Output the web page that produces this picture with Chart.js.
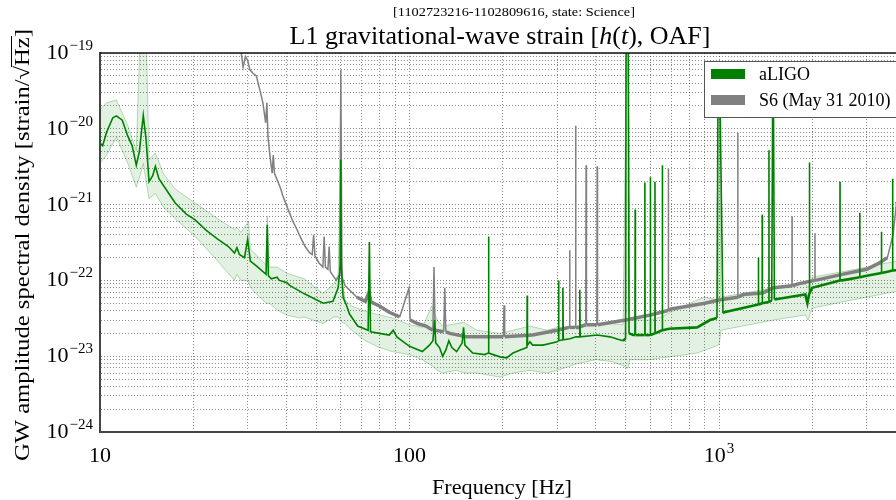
<!DOCTYPE html>
<html>
<head>
<meta charset="utf-8">
<script src="https://cdn.jsdelivr.net/npm/chart.js@4.4.0/dist/chart.umd.min.js"></script>
<style>
html, body { margin: 0; padding: 0; overflow: hidden; background: #fff; }
canvas { display: block; }
</style>
</head>
<body>
<canvas id="asdChart" width="912" height="500"></canvas>
<script>
// aLIGO median ASD (Hz, strain/rtHz)
var aligoFreq = [
  10, 10.2, 10.5, 11, 11.3, 11.8, 12.3, 12.7, 13.1, 13.4,
  13.8, 14.1, 14.4, 14.8, 15.1, 15.5, 16.5, 17.5, 19, 20.3,
  22, 24, 26, 27.2, 27.7, 28.2, 29.3, 30, 30.6, 32,
  34.4, 34.7, 35, 35.8, 37.3, 38, 40.2, 41, 45.6, 52.6,
  56.6, 58.8, 59.7, 59.95, 60.2, 61, 62.7, 64, 68, 73.5,
  74.2, 74.8, 80, 86, 88.6, 91, 100, 110, 116, 119,
  120.5, 121.5, 125, 128, 131, 134, 137, 142, 148, 149.5,
  151, 160, 175, 179.5, 180, 180.5, 196, 206, 216, 227,
  239.5, 240, 240.5, 245, 250, 270, 300, 302.5, 303, 304,
  312, 313, 314, 330, 345, 354, 355, 356, 404, 444,
  489, 499, 501, 509, 512, 528, 535, 536, 537, 575,
  576, 577, 599, 600, 601, 620, 621, 622, 655, 656,
  657, 690, 850, 935, 985, 992, 1000, 1008, 1030, 1040,
  1340, 1341, 1342, 1379, 1380, 1381, 1449, 1450, 1451, 1480,
  1490, 1500, 1510, 1900, 1930, 1958, 1960, 1962, 2000, 2459,
  2460, 2461, 2500, 2849, 2850, 2851, 3000, 3349, 3350, 3351,
  3500, 3639, 3640, 3641, 4000
];
var aligoAsd = [
  6.5e-21, 6.0e-21, 9.0e-21, 1.4e-20, 1.48e-20, 1.3e-20, 8e-21, 6e-21, 3.3e-21, 5e-21,
  1.5e-20, 7e-21, 2.0e-21, 2.4e-21, 3.2e-21, 2.2e-21, 1.5e-21, 1.05e-21, 7.5e-22, 6.3e-22,
  4.6e-22, 3.5e-22, 2.8e-22, 2.3e-22, 2.7e-22, 2.2e-22, 2.0e-22, 3.5e-22, 1.8e-22, 1.55e-22,
  1.2e-22, 5.4e-22, 1.15e-22, 1.05e-22, 1.1e-22, 1.0e-22, 9.3e-23, 8.6e-23, 6.7e-23, 5.0e-23,
  5.3e-23, 8e-23, 1.5e-22, 3.9e-21, 1.6e-22, 6e-23, 4.6e-23, 3.6e-23, 2.5e-23, 2.2e-23,
  3.2e-22, 2.1e-23, 2.0e-23, 1.9e-23, 2.2e-23, 1.8e-23, 1.35e-23, 1.15e-23, 1.4e-23, 1.6e-23,
  3.0e-23, 1.5e-23, 1.3e-23, 1.0e-23, 1.2e-23, 1.6e-23, 1.3e-23, 1.15e-23, 1.5e-23, 2.4e-23,
  1.4e-23, 1.1e-23, 1.05e-23, 1.1e-23, 3.8e-22, 1.1e-23, 9.8e-24, 9.5e-24, 1.1e-23, 1.2e-23,
  1.3e-23, 6.3e-23, 1.4e-23, 1.55e-23, 1.4e-23, 1.4e-23, 1.55e-23, 1.6e-23, 1.0e-22, 1.6e-23,
  1.65e-23, 8e-23, 1.65e-23, 1.7e-23, 1.8e-23, 1.8e-23, 7.5e-23, 1.8e-23, 1.9e-23, 1.8e-23,
  1.6e-23, 1.7e-23, 3e-19, 3e-19, 2e-23, 1.9e-23, 1.9e-23, 8.6e-22, 1.9e-23, 1.9e-23,
  1.95e-21, 1.9e-23, 1.9e-23, 2.3e-21, 1.9e-23, 2.0e-23, 2.0e-21, 2.0e-23, 2.2e-23, 3.3e-21,
  2.2e-23, 2.3e-23, 2.4e-23, 3e-23, 3.2e-23, 2e-20, 2.6e-20, 2e-20, 3.7e-23, 3.8e-23,
  4.8e-23, 2e-22, 4.8e-23, 5e-23, 7.4e-22, 5e-23, 5.2e-23, 5.2e-21, 5.2e-23, 5.4e-23,
  1.6e-20, 1.6e-20, 5.6e-23, 6.5e-23, 5e-23, 6.8e-23, 3.6e-21, 6.8e-23, 8e-23, 1.0e-22,
  2e-21, 1.0e-22, 1.0e-22, 1.1e-22, 7.8e-22, 1.1e-22, 1.15e-22, 1.25e-22, 4.4e-22, 1.25e-22,
  1.3e-22, 1.35e-22, 2.2e-21, 1.35e-22, 1.4e-22
];

// aLIGO percentile band
var bandFreq = [
  10, 10.5, 11.3, 12.3, 13.1, 13.5, 13.8, 14.1, 14.4, 15.1,
  16, 17.5, 20.3, 24, 27.2, 27.7, 28.5, 29.8, 30.2, 30.6,
  34.4, 34.7, 35.2, 37.3, 40, 44, 45.6, 52.5, 57, 58.8,
  59.95, 60.5, 62, 65, 72, 80, 88, 100, 110, 118,
  123, 128, 142, 150, 165, 196, 216, 245, 278, 300,
  350, 400, 450, 490, 503, 508, 515, 600, 650, 850,
  900, 995, 1003, 1015, 1500, 1900, 1940, 2000, 2500, 3000,
  3500, 4000
];
var bandLow = [
  3.5e-21, 4.5e-21, 7.8e-21, 3.5e-21, 1.7e-21, 2.5e-21, 3.5e-21, 2e-21, 1.2e-21, 1.4e-21,
  9.4e-22, 6.5e-22, 3.8e-22, 1.8e-22, 1.0e-22, 1.2e-22, 1.0e-22, 1.0e-22, 1.0e-22, 8e-23,
  5e-23, 5e-23, 5e-23, 4.1e-23, 3.5e-23, 3.2e-23, 3.3e-23, 2.7e-23, 3.3e-23, 3.3e-23,
  3e-23, 2.8e-23, 2.7e-23, 2.2e-23, 1.6e-23, 1.3e-23, 1.15e-23, 1.05e-23, 9e-24, 7.5e-24,
  6.5e-24, 6e-24, 6.5e-24, 6e-24, 6e-24, 5.3e-24, 6e-24, 6.5e-24, 6e-24, 6.5e-24,
  8e-24, 9e-24, 8.5e-24, 7.5e-24, 7e-24, 7e-24, 9e-24, 9e-24, 9.5e-24, 1.1e-23,
  1.2e-23, 1.4e-23, 1.5e-23, 2.2e-23, 3e-23, 3.5e-23, 3e-23, 4.3e-23, 5.2e-23, 6e-23,
  6.8e-23, 7.5e-23
];
var bandHigh = [
  1.8e-20, 2.2e-20, 2.4e-20, 1.1e-20, 5.2e-21, 2e-19, 2e-19, 2e-19, 3.9e-21, 4.8e-21,
  2.6e-21, 1.6e-21, 1.05e-21, 6.5e-22, 4.7e-22, 5.0e-22, 4.3e-22, 5.5e-22, 6e-22, 2.6e-22,
  1.6e-22, 7e-22, 1.5e-22, 1.5e-22, 1.25e-22, 1.1e-22, 1.06e-22, 6.7e-23, 9e-23, 1.2e-22,
  5e-21, 1e-22, 5.5e-23, 4.6e-23, 3.9e-23, 3.5e-23, 3.2e-23, 2.6e-23, 2.4e-23, 4.6e-23,
  3e-23, 2.5e-23, 2.7e-23, 2.8e-23, 2.2e-23, 2e-23, 2.2e-23, 2.5e-23, 2.2e-23, 2.4e-23,
  2.4e-23, 2.6e-23, 2.7e-23, 2.6e-23, 2e-19, 2e-19, 3e-23, 3e-23, 3.3e-23, 5.5e-23,
  6e-23, 5.5e-23, 4e-20, 6e-23, 8e-23, 9e-23, 8e-23, 1.1e-22, 1.3e-22, 1.5e-22,
  1.7e-22, 1.9e-22
];

// S6 reference (May 31 2010)
var s6Freq = [
  27.5, 28.5, 29, 29.5, 30, 30.5, 31.2, 32, 33, 33.6,
  34.3, 34.6, 34.9, 35.5, 36, 36.3, 36.6, 38.2, 39, 40.2,
  42, 43.3, 44.3, 46, 47.6, 48.5, 49, 49.5, 51, 52.5,
  53, 53.5, 54.5, 55, 55.5, 58, 59.5, 60, 60.5, 62,
  67.6, 72, 74, 75, 80, 86, 93, 99.6, 100.5, 106,
  113, 119, 120, 121, 129, 130, 131, 135, 153, 180,
  201, 202, 203, 250, 300, 328, 329, 330, 343, 344,
  345, 350, 371, 372, 373, 403, 404, 405, 500, 600,
  685, 686, 687, 700, 800, 900, 1000, 1149, 1150, 1151,
  1200, 1379, 1380, 1381, 1500, 1721, 1722, 1723, 1800, 2041,
  2042, 2043, 2500, 3000, 3300, 3500, 3650, 3750, 3850, 4000
];
var s6Asd = [
  1.5e-19, 1.1e-19, 6.5e-20, 9e-20, 8e-20, 6e-20, 5.4e-20, 5e-20, 3e-20, 2.2e-20,
  1.2e-20, 2.2e-20, 7.8e-21, 4e-21, 2.6e-21, 4.5e-21, 2.6e-21, 1.7e-21, 1.3e-21, 9.4e-22,
  6e-22, 4.7e-22, 3.8e-22, 2.8e-22, 2.3e-22, 2.2e-22, 4e-22, 2.1e-22, 1.7e-22, 1.5e-22,
  3.8e-22, 1.5e-22, 1.4e-22, 2.8e-22, 1.3e-22, 1e-22, 1.2e-22, 6e-20, 1.1e-22, 8.5e-23,
  6e-23, 5.3e-23, 7e-23, 5.2e-23, 4.6e-23, 3.8e-23, 3.3e-23, 7.9e-23, 3e-23, 2.7e-23,
  2.5e-23, 2.2e-23, 1.5e-22, 2.2e-23, 2.1e-23, 8e-23, 2.1e-23, 2e-23, 1.8e-23, 1.8e-23,
  1.8e-23, 4.7e-23, 1.8e-23, 1.9e-23, 2.2e-23, 2.4e-23, 2.5e-22, 2.4e-23, 2.4e-23, 1.1e-20,
  2.4e-23, 2.4e-23, 2.6e-23, 3.3e-21, 2.6e-23, 2.6e-23, 3.2e-21, 2.6e-23, 3e-23, 3.5e-23,
  4e-23, 3e-21, 4e-23, 4.2e-23, 4.6e-23, 5e-23, 5.5e-23, 6e-23, 8.8e-21, 6e-23,
  6.5e-23, 6.8e-23, 7e-22, 6.8e-23, 8e-23, 8.5e-23, 7e-22, 8.5e-23, 9e-23, 1e-22,
  4.2e-22, 1e-22, 1.2e-22, 1.4e-22, 1.7e-22, 2e-22, 4e-22, 1.1e-21, 8e-22, 6e-22
];

// axis ticks
var xGridVals = [10, 20, 30, 40, 50, 60, 70, 80, 90, 100, 200, 300, 400, 500, 600, 700, 800, 900, 1000, 2000, 3000];
var xTickVals = [10, 100, 1000];
var xTickBase = ['10', '100', '10'];
var xTickExp = ['', '', '3'];
var yTickVals = [1e-19, 1e-20, 1e-21, 1e-22, 1e-23, 1e-24];
var yTickExp = ['\u221219', '\u221220', '\u221221', '\u221222', '\u221223', '\u221224'];

var yGridVals = [];
for (var e = -24; e < -19; e++) {
  for (var m = 1; m < 10; m++) yGridVals.push(m * Math.pow(10, e));
}
yGridVals.push(1e-19);

function pts(xs, ys) {
  return xs.map(function (x, i) { return { x: x, y: ys[i] }; });
}

// noisy floor segments drawn thick, narrow lines (big jumps) drawn thin
function floorWidth(fromHz, thick, thin) {
  return function (c) {
    var r = c.p1.parsed.y / c.p0.parsed.y;
    if (r < 1) r = 1 / r;
    return (c.p0.parsed.x > fromHz && r < 2) ? thick : thin;
  };
}

var SERIF = '"Liberation Serif", "DejaVu Serif", serif';

function drawPower(ctx, base, exp, x, y, align) {
  ctx.font = '22px ' + SERIF;
  var wb = ctx.measureText(base).width;
  ctx.font = '15px ' + SERIF;
  var we = exp ? ctx.measureText(exp).width + 1 : 0;
  var total = wb + we;
  var left = align === 'right' ? x - total : x - total / 2;
  ctx.textAlign = 'left';
  ctx.textBaseline = 'alphabetic';
  ctx.fillStyle = '#000';
  ctx.font = '22px ' + SERIF;
  ctx.fillText(base, left, y);
  if (exp) {
    ctx.font = '15px ' + SERIF;
    ctx.fillText(exp, left + wb + 1, y - 9);
  }
}

// draw text stretched to a given width, centred at cx
function fitText(ctx, str, cx, y, width) {
  var w = ctx.measureText(str).width;
  ctx.save();
  ctx.translate(cx, y);
  ctx.scale(width / w, 1);
  ctx.textAlign = 'center';
  ctx.fillText(str, 0, 0);
  ctx.restore();
}

var decorPlugin = {
  id: 'decor',
  beforeDraw: function (chart) {
    var ctx = chart.ctx;
    ctx.save();
    ctx.fillStyle = '#fff';
    ctx.fillRect(0, 0, chart.width, chart.height);
    ctx.restore();
  },
  afterDraw: function (chart) {
    var ctx = chart.ctx;
    var area = chart.chartArea;
    var xs = chart.scales.x, ys = chart.scales.y;
    ctx.save();

    // top spine
    ctx.strokeStyle = '#111';
    ctx.lineWidth = 1.5;
    ctx.beginPath();
    ctx.moveTo(area.left, area.top);
    ctx.lineTo(area.right, area.top);
    ctx.stroke();

    // tick labels
    yTickVals.forEach(function (v, i) {
      drawPower(ctx, '10', yTickExp[i], area.left - 7, ys.getPixelForValue(v) + 6, 'right');
    });
    xTickVals.forEach(function (v, i) {
      drawPower(ctx, xTickBase[i], xTickExp[i], xs.getPixelForValue(v), 462, 'center');
    });

    // super title
    ctx.fillStyle = '#000';
    ctx.font = '13px ' + SERIF;
    fitText(ctx, '[1102723216-1102809616, state: Science]', 514, 16, 242);

    // title with italic parts
    var parts = [['L1 gravitational-wave strain [', false], ['h', true], ['(', false], ['t', true], ['), OAF]', false]];
    var total = 0;
    parts.forEach(function (p) {
      ctx.font = (p[1] ? 'italic ' : '') + '26px ' + SERIF;
      p.w = ctx.measureText(p[0]).width;
      total += p.w;
    });
    var tx = 500 - total / 2;
    ctx.textAlign = 'left';
    parts.forEach(function (p) {
      ctx.font = (p[1] ? 'italic ' : '') + '26px ' + SERIF;
      ctx.fillText(p[0], tx, 44);
      tx += p.w;
    });

    // x axis title
    ctx.font = '21px ' + SERIF;
    fitText(ctx, 'Frequency [Hz]', 502, 494, 140);

    // y axis title
    ctx.translate(22, 245);
    ctx.rotate(-Math.PI / 2);
    ctx.font = '21px ' + SERIF;
    var s1 = 'GW amplitude spectral density [strain/';
    var w1 = ctx.measureText(s1).width;
    var wr = ctx.measureText('\u221A').width;
    var wh = ctx.measureText('Hz').width;
    var wc = ctx.measureText(']').width;
    var full = w1 + wr + wh + wc;
    ctx.scale(432 / full, 1);
    var start = -full / 2;
    ctx.textAlign = 'left';
    ctx.fillText(s1, start, 7);
    ctx.fillText('\u221A', start + w1, 7);
    ctx.fillText('Hz', start + w1 + wr, 7);
    ctx.fillText(']', start + w1 + wr + wh, 7);
    ctx.strokeStyle = '#000';
    ctx.lineWidth = 1;
    ctx.beginPath();
    ctx.moveTo(start + w1 + wr - 1, -10.5);
    ctx.lineTo(start + w1 + wr + wh + 1, -10.5);
    ctx.stroke();
    ctx.setTransform(1, 0, 0, 1, 0, 0);

    // legend
    var lx = 704, ly = 61;
    ctx.fillStyle = '#fff';
    ctx.fillRect(lx, ly, 210, 56);
    ctx.strokeStyle = '#555';
    ctx.lineWidth = 1;
    ctx.strokeRect(lx + 0.5, ly + 0.5, 210, 56);
    var entries = [[chart.data.datasets[0].label, 'rgb(0,128,0)'], [chart.data.datasets[1].label, 'rgb(128,128,128)']];
    ctx.font = '18px ' + SERIF;
    ctx.textBaseline = 'middle';
    entries.forEach(function (en, i) {
      var yy = ly + 13 + i * 26;
      ctx.fillStyle = en[1];
      ctx.fillRect(lx + 7, yy - 5, 34, 10);
      ctx.fillStyle = '#000';
      ctx.fillText(en[0], lx + 55, yy + 1);
    });
    ctx.restore();
  }
};

var ASDCHART = document.getElementById('asdChart');

var asdChart = new Chart(ASDCHART, {
  type: 'line',
  data: {
    datasets: [{
      label: 'aLIGO',
      data: pts(aligoFreq, aligoAsd),
      borderColor: 'rgb(0,128,0)',
      borderWidth: 1.6,
      segment: { borderWidth: floorWidth(480, 2.6, 1.6) },
      pointRadius: 0,
      fill: false,
      clip: 0
    }, {
      label: 'S6 (May 31 2010)',
      data: pts(s6Freq, s6Asd),
      borderColor: 'rgb(128,128,128)',
      borderWidth: 1.6,
      segment: { borderWidth: floorWidth(62, 3.5, 1.5) },
      pointRadius: 0,
      fill: false,
      clip: 0
    }, {
      label: 'band high',
      data: pts(bandFreq, bandHigh),
      borderColor: 'rgba(0,128,0,0.28)',
      backgroundColor: 'rgba(0,128,0,0.11)',
      borderWidth: 1,
      pointRadius: 0,
      fill: '+1',
      clip: 0
    }, {
      label: 'band low',
      data: pts(bandFreq, bandLow),
      borderColor: 'rgba(0,128,0,0.28)',
      borderWidth: 1,
      pointRadius: 0,
      fill: false,
      clip: 0
    }]
  },
  options: {
    responsive: false,
    animation: false,
    devicePixelRatio: 1,
    layout: { padding: { left: 0, right: 8, top: 53, bottom: 0 } },
    plugins: { legend: { display: false }, tooltip: { enabled: false } },
    elements: { line: { tension: 0 } },
    scales: {
      x: {
        type: 'logarithmic',
        min: 10,
        max: 3960,
        afterBuildTicks: function (s) { s.ticks = xGridVals.map(function (v) { return { value: v }; }); },
        afterFit: function (s) { s.height = 68; },
        ticks: { display: false },
        grid: { color: 'rgba(0,0,0,0.45)', lineWidth: 1, drawTicks: false },
        border: { display: true, color: '#444', width: 2, dash: [1, 2] }
      },
      y: {
        type: 'logarithmic',
        min: 1e-24,
        max: 1e-19,
        afterBuildTicks: function (s) { s.ticks = yGridVals.map(function (v) { return { value: v }; }); },
        afterFit: function (s) { s.width = 100; },
        ticks: { display: false },
        grid: { color: 'rgba(0,0,0,0.45)', lineWidth: 1, drawTicks: false },
        border: { display: true, color: '#444', width: 2, dash: [1, 2] }
      }
    }
  },
  plugins: [decorPlugin]
});
</script>
</body>
</html>
